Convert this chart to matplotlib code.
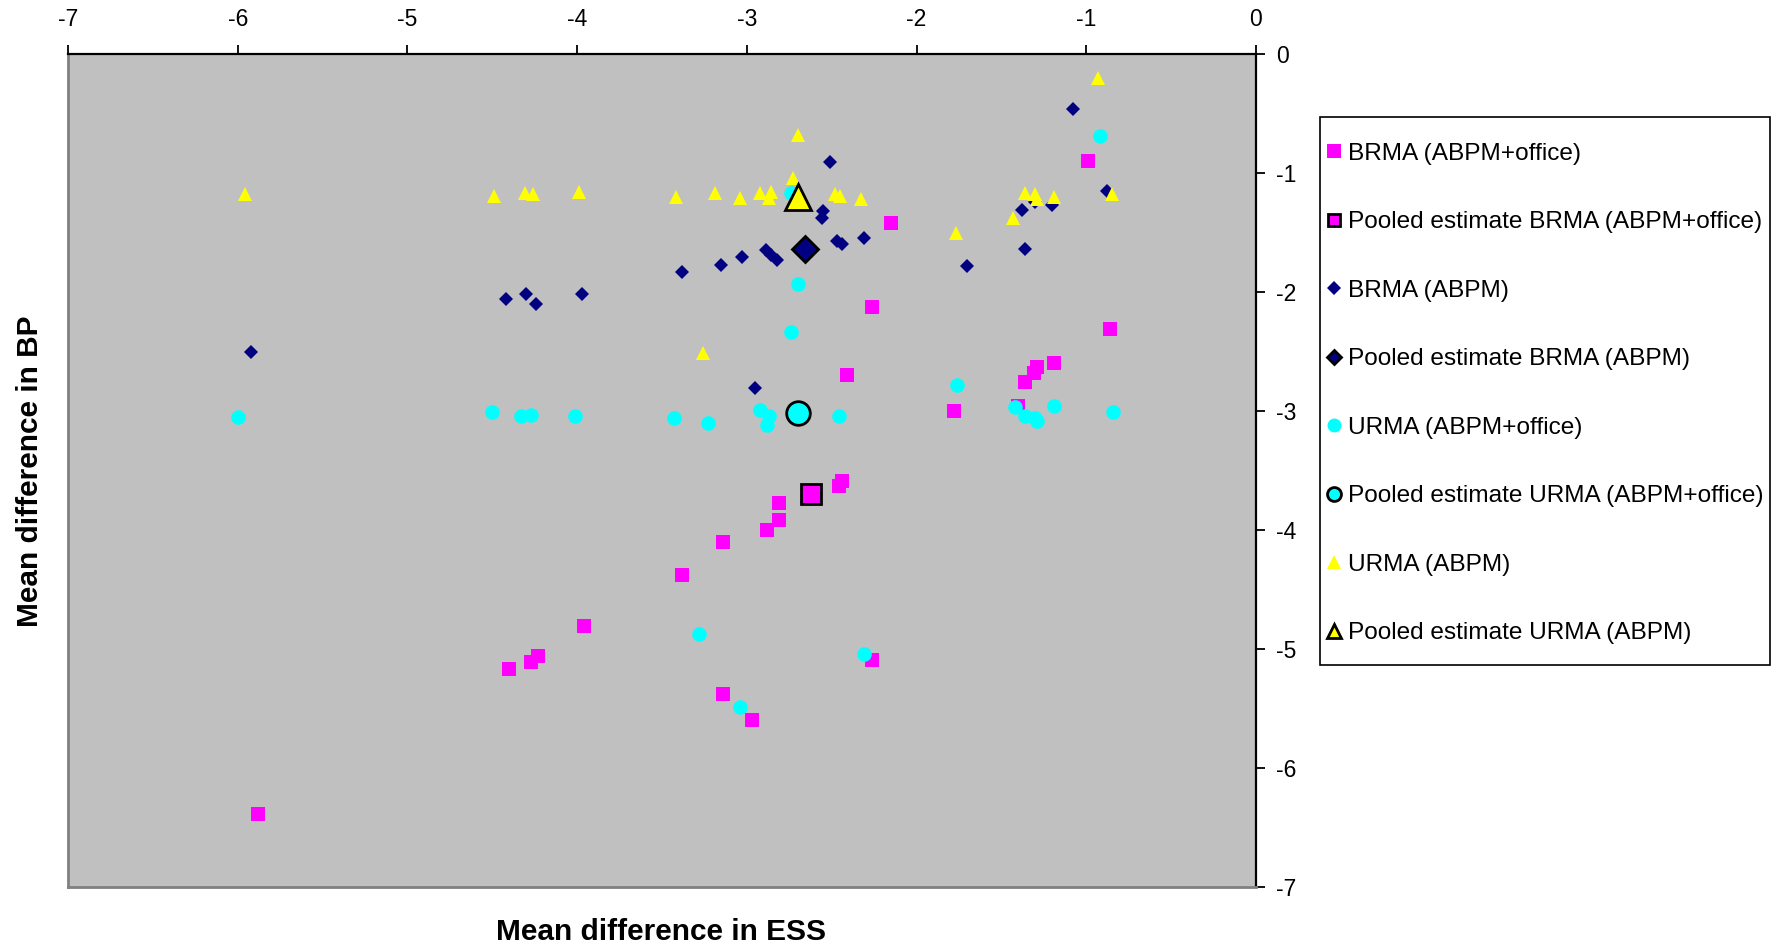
import matplotlib
matplotlib.use("Agg")
import matplotlib.pyplot as plt
from matplotlib.lines import Line2D
from matplotlib.patches import Rectangle

plt.rcParams['font.family'] = ['Liberation Sans', 'DejaVu Sans']

# ---- data ----
brma_off_x = [-0.99, -2.15, -2.26, -0.86, -2.41, -1.19, -1.29, -1.31, -1.36, -1.40, -1.78,
              -2.44, -2.46, -2.81, -2.81, -2.88, -3.14, -3.38, -2.26, -3.14, -2.97, -3.96,
              -4.23, -4.27, -4.40, -5.88]
brma_off_y = [-0.90, -1.42, -2.13, -2.31, -2.70, -2.60, -2.63, -2.68, -2.76, -2.96, -3.00,
              -3.59, -3.63, -3.77, -3.92, -4.00, -4.10, -4.38, -5.09, -5.38, -5.60, -4.81,
              -5.06, -5.11, -5.17, -6.39]
pooled_brma_off = (-2.62, -3.70)

brma_abpm_x = [-2.51, -2.55, -2.56, -2.47, -2.44, -2.31, -3.38, -3.15, -3.03, -2.89, -2.86,
               -2.82, -2.95, -1.70, -1.36, -1.38, -1.30, -1.20, -1.08, -0.88, -5.92, -4.42,
               -4.30, -4.24, -3.97]
brma_abpm_y = [-0.91, -1.32, -1.38, -1.57, -1.60, -1.55, -1.83, -1.77, -1.71, -1.65, -1.69,
               -1.73, -2.81, -1.78, -1.64, -1.31, -1.24, -1.27, -0.46, -1.15, -2.50, -2.06,
               -2.02, -2.10, -2.02]
pooled_brma_abpm = (-2.66, -1.64)

urma_off_x = [-0.92, -2.70, -2.74, -1.76, -3.43, -3.23, -2.92, -2.87, -2.88, -2.46, -1.42,
              -1.36, -1.30, -1.29, -1.19, -0.84, -3.28, -2.31, -3.04, -6.00, -4.50, -4.33,
              -4.27, -4.01, -2.74]
urma_off_y = [-0.69, -1.93, -2.34, -2.78, -3.06, -3.10, -2.99, -3.04, -3.12, -3.04, -2.97,
              -3.04, -3.06, -3.08, -2.96, -3.01, -4.87, -5.04, -5.49, -3.05, -3.01, -3.04,
              -3.03, -3.04, -1.17]
pooled_urma_off = (-2.70, -3.02)

urma_abpm_x = [-5.96, -4.49, -4.31, -4.26, -3.99, -3.42, -3.19, -3.04, -2.92, -2.86, -2.87,
               -2.70, -2.73, -2.48, -2.45, -2.33, -3.26, -1.77, -1.43, -1.36, -1.30, -1.29,
               -1.19, -0.93, -0.85]
urma_abpm_y = [-1.18, -1.19, -1.17, -1.18, -1.16, -1.20, -1.17, -1.21, -1.17, -1.16, -1.21,
               -0.68, -1.04, -1.18, -1.19, -1.22, -2.51, -1.50, -1.38, -1.17, -1.18, -1.22,
               -1.20, -0.20, -1.18]
pooled_urma_abpm = (-2.70, -1.20)

labels = ["BRMA (ABPM+office)", "Pooled estimate BRMA (ABPM+office)",
          "BRMA (ABPM)", "Pooled estimate BRMA (ABPM)",
          "URMA (ABPM+office)", "Pooled estimate URMA (ABPM+office)",
          "URMA (ABPM)", "Pooled estimate URMA (ABPM)"]
ticks = [-7, -6, -5, -4, -3, -2, -1, 0]

MAG, NAVY, CYAN, YEL = '#FF00FF', '#000080', '#00FFFF', '#FFFF00'

# ---- figure ----
fig = plt.figure(figsize=(17.82, 9.5), dpi=100)
ax = fig.add_axes([68 / 1782, 1 - 887 / 950, (1256 - 68) / 1782, (887 - 54) / 950])
ax.set_facecolor('#C0C0C0')

ax.plot(brma_off_x, brma_off_y, ls='none', marker='s', ms=10.5, mfc=MAG, mew=0, zorder=3)
ax.plot(*pooled_brma_off, ls='none', marker='s', ms=14.5, mfc=MAG, mec='black', mew=2, zorder=3)
ax.plot(brma_abpm_x, brma_abpm_y, ls='none', marker='D', ms=7.6, mfc=NAVY, mew=0, zorder=3)
ax.plot(*pooled_brma_abpm, ls='none', marker='D', ms=13.5, mfc=NAVY, mec='black', mew=2, zorder=3)
ax.plot(urma_off_x, urma_off_y, ls='none', marker='o', ms=10.5, mfc=CYAN, mew=0, zorder=3)
ax.plot(*pooled_urma_off, ls='none', marker='o', ms=17, mfc=CYAN, mec='black', mew=2, zorder=3)
ax.plot(urma_abpm_x, urma_abpm_y, ls='none', marker='^', ms=10.5, mfc=YEL, mew=0, zorder=3)
ax.plot(*pooled_urma_abpm, ls='none', marker='^', ms=19, mfc=YEL, mec='black', mew=2, zorder=3)

ax.set_xlim(-7, 0)
ax.set_ylim(-7, 0)
ax.set_xticks(ticks)
ax.set_yticks(ticks)
ax.set_xticklabels([str(t) for t in ticks])
ax.set_yticklabels([str(t) for t in ticks])
ax.xaxis.tick_top()
ax.yaxis.tick_right()
ax.tick_params(axis='both', direction='out', length=6.5, width=1.3, color='black',
               labelsize=16.5)
ax.tick_params(axis='x', pad=10)
ax.tick_params(axis='y', pad=8)

for s in ['left', 'bottom']:
    ax.spines[s].set_color('#808080')
    ax.spines[s].set_linewidth(2)
for s in ['top', 'right']:
    ax.spines[s].set_color('black')
    ax.spines[s].set_linewidth(1.6)

fig.text(661 / 1782, 1 - 932 / 950, "Mean difference in ESS", ha='center', va='center',
         fontsize=21.5, fontweight='bold')
fig.text(30 / 1782, 1 - 471 / 950, "Mean difference in BP", ha='center', va='center',
         rotation=90, fontsize=21.5, fontweight='bold')

# ---- legend ----
fig.patches.append(Rectangle((1319.5 / 1782, 1 - 665 / 950), (1770 - 1319.5) / 1782,
                             (665 - 117) / 950, transform=fig.transFigure,
                             facecolor='white', edgecolor='black', lw=1.2, zorder=1))
hs = [
    Line2D([], [], ls='none', marker='s', ms=10, mfc=MAG, mew=0),
    Line2D([], [], ls='none', marker='s', ms=9, mfc=MAG, mec='black', mew=2),
    Line2D([], [], ls='none', marker='D', ms=7, mfc=NAVY, mew=0),
    Line2D([], [], ls='none', marker='D', ms=7, mfc=NAVY, mec='black', mew=2),
    Line2D([], [], ls='none', marker='o', ms=10, mfc=CYAN, mew=0),
    Line2D([], [], ls='none', marker='o', ms=10, mfc=CYAN, mec='black', mew=2),
    Line2D([], [], ls='none', marker='^', ms=10, mfc=YEL, mew=0),
    Line2D([], [], ls='none', marker='^', ms=10, mfc=YEL, mec='black', mew=2),
]
leg = fig.legend(hs, labels, loc='upper left', bbox_to_anchor=(1326.5 / 1782, 1 - 142.5 / 950),
                 frameon=False, borderpad=0, borderaxespad=0, handlelength=0.6,
                 handletextpad=0.28, labelspacing=1.9, fontsize=17.6)
leg.set_zorder(2)

fig.savefig("out.png", dpi=100)
